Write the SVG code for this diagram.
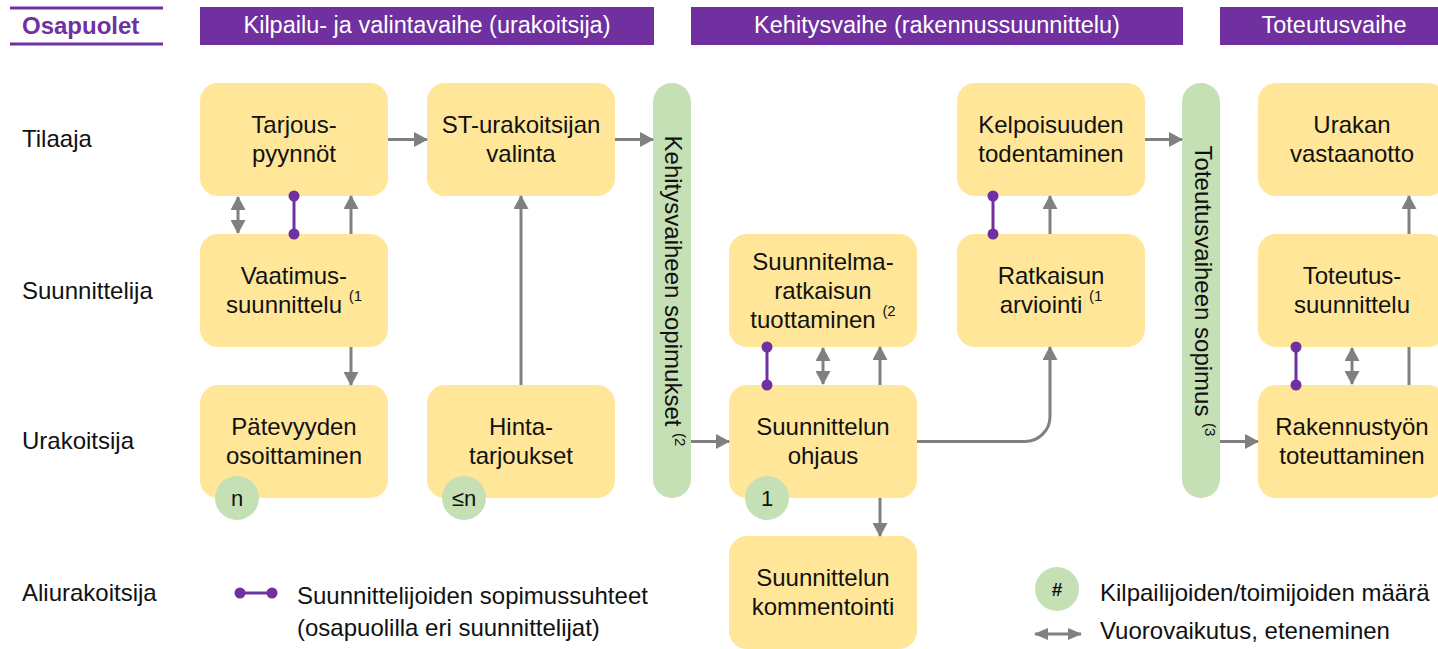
<svg xmlns="http://www.w3.org/2000/svg" width="1438" height="649" viewBox="0 0 1438 649">
<style>
text{font-family:"Liberation Sans",Arial,sans-serif;fill:#111;}
.node{fill:#FFE699;}
.t{font-size:24px;text-anchor:middle;}
.lbl{font-size:24px;}
.hdr{fill:#7030A0;}
.ht{font-size:23.5px;fill:#fff;text-anchor:middle;}
.bar{fill:#C5E0B4;}
.cnt{fill:#C5E0B4;}
.ct{font-size:22px;text-anchor:middle;}
.sup{font-size:15px;}
.arr{stroke:#808080;stroke-width:3;fill:none;}
.pl{stroke:#7030A0;stroke-width:3;fill:none;}
.pd{fill:#7030A0;}
</style>
<defs>
<marker id="ah" viewBox="0 0 14 15" refX="13" refY="7.5" markerWidth="14" markerHeight="15" markerUnits="userSpaceOnUse" orient="auto-start-reverse">
<path d="M0,0 L14,7.5 L0,15 z" fill="#808080"/>
</marker>
<marker id="ahs" viewBox="0 0 14 12" refX="13" refY="6" markerWidth="14" markerHeight="12" markerUnits="userSpaceOnUse" orient="auto-start-reverse">
<path d="M0,0 L14,6 L0,12 z" fill="#808080"/>
</marker>
</defs>

<g id="header">
<line x1="10" y1="8" x2="163" y2="8" stroke="#7030A0" stroke-width="3"/>
<line x1="10" y1="44" x2="163" y2="44" stroke="#7030A0" stroke-width="3"/>
<text x="22" y="34" style="font-size:24px;font-weight:bold;fill:#7030A0">Osapuolet</text>
<rect class="hdr" x="200" y="7" width="454" height="38"/>
<text class="ht" x="427" y="33">Kilpailu- ja valintavaihe (urakoitsija)</text>
<rect class="hdr" x="691" y="7" width="492" height="38"/>
<text class="ht" x="937" y="33">Kehitysvaihe (rakennussuunnittelu)</text>
<rect class="hdr" x="1220" y="7" width="230" height="38"/>
<text class="ht" x="1334" y="33">Toteutusvaihe</text>
</g>

<g id="row-labels">
<text class="lbl" x="22" y="147">Tilaaja</text>
<text class="lbl" x="22" y="299">Suunnittelija</text>
<text class="lbl" x="22" y="449">Urakoitsija</text>
<text class="lbl" x="22" y="601">Aliurakoitsija</text>
</g>

<g id="bar-kehitys">
<rect class="bar" x="653" y="83" width="38" height="415" rx="19"/>
<text class="t" transform="translate(665,291) rotate(90)">Kehitysvaiheen sopimukset <tspan class="sup" dy="-10">(2</tspan></text>
</g>
<g id="bar-toteutus">
<rect class="bar" x="1182" y="83" width="38" height="415" rx="19"/>
<text class="t" transform="translate(1195,291) rotate(90)">Toteutusvaiheen sopimus <tspan class="sup" dy="-10">(3</tspan></text>
</g>

<g id="n-tarjous"><rect class="node" x="200" y="83" width="188" height="113" rx="18"/>
<text class="t" x="294" y="133">Tarjous-</text><text class="t" x="294" y="162">pyynnöt</text></g>
<g id="n-st"><rect class="node" x="427" y="83" width="188" height="113" rx="18"/>
<text class="t" x="521" y="133">ST-urakoitsijan</text><text class="t" x="521" y="162">valinta</text></g>
<g id="n-kelpoisuus"><rect class="node" x="957" y="83" width="188" height="113" rx="18"/>
<text class="t" x="1051" y="133">Kelpoisuuden</text><text class="t" x="1051" y="162">todentaminen</text></g>
<g id="n-urakan"><rect class="node" x="1258" y="83" width="188" height="113" rx="18"/>
<text class="t" x="1352" y="133">Urakan</text><text class="t" x="1352" y="162">vastaanotto</text></g>

<g id="n-vaatimus"><rect class="node" x="200" y="234" width="188" height="113" rx="18"/>
<text class="t" x="294" y="284">Vaatimus-</text><text class="t" x="294" y="313">suunnittelu <tspan class="sup" dy="-12">(1</tspan></text></g>
<g id="n-suunnitelmaratkaisu"><rect class="node" x="729" y="234" width="188" height="113" rx="18"/>
<text class="t" x="823" y="270">Suunnitelma-</text><text class="t" x="823" y="299">ratkaisun</text><text class="t" x="823" y="327.5">tuottaminen <tspan class="sup" dy="-12">(2</tspan></text></g>
<g id="n-ratkaisun-arviointi"><rect class="node" x="957" y="234" width="188" height="113" rx="18"/>
<text class="t" x="1051" y="284">Ratkaisun</text><text class="t" x="1051" y="313">arviointi <tspan class="sup" dy="-12">(1</tspan></text></g>
<g id="n-toteutussuunnittelu"><rect class="node" x="1258" y="234" width="188" height="113" rx="18"/>
<text class="t" x="1352" y="284">Toteutus-</text><text class="t" x="1352" y="313">suunnittelu</text></g>

<g id="n-patevyys"><rect class="node" x="200" y="385" width="188" height="113" rx="18"/>
<text class="t" x="294" y="435">Pätevyyden</text><text class="t" x="294" y="464">osoittaminen</text>
<circle class="cnt" cx="237" cy="498" r="22"/><text class="ct" x="237" y="506">n</text></g>
<g id="n-hinta"><rect class="node" x="427" y="385" width="188" height="113" rx="18"/>
<text class="t" x="521" y="435">Hinta-</text><text class="t" x="521" y="464">tarjoukset</text>
<circle class="cnt" cx="464" cy="498" r="22"/><text class="ct" x="464" y="506">≤n</text></g>
<g id="n-ohjaus"><rect class="node" x="729" y="385" width="188" height="113" rx="18"/>
<text class="t" x="823" y="435">Suunnittelun</text><text class="t" x="823" y="464">ohjaus</text>
<circle class="cnt" cx="767" cy="498" r="22"/><text class="ct" x="767" y="506">1</text></g>
<g id="n-rakennustyo"><rect class="node" x="1258" y="385" width="188" height="113" rx="18"/>
<text class="t" x="1352" y="435">Rakennustyön</text><text class="t" x="1352" y="464">toteuttaminen</text></g>

<g id="n-kommentointi"><rect class="node" x="729" y="536" width="188" height="113" rx="18"/>
<text class="t" x="823" y="586">Suunnittelun</text><text class="t" x="823" y="615">kommentointi</text></g>

<g id="connectors">
<line class="arr" x1="388" y1="139.5" x2="427" y2="139.5" marker-end="url(#ah)"/>
<line class="arr" x1="615" y1="139.5" x2="653" y2="139.5" marker-end="url(#ah)"/>
<line class="arr" x1="1145" y1="139.5" x2="1182" y2="139.5" marker-end="url(#ah)"/>
<line class="arr" x1="238" y1="197" x2="238" y2="233" marker-start="url(#ah)" marker-end="url(#ah)"/>
<line class="arr" x1="351" y1="234" x2="351" y2="196" marker-end="url(#ah)"/>
<line class="arr" x1="351" y1="347" x2="351" y2="385" marker-end="url(#ah)"/>
<line class="arr" x1="521" y1="385" x2="521" y2="196" marker-end="url(#ah)"/>
<line class="arr" x1="691" y1="441.5" x2="729" y2="441.5" marker-end="url(#ah)"/>
<line class="arr" x1="823" y1="348" x2="823" y2="384" marker-start="url(#ah)" marker-end="url(#ah)"/>
<line class="arr" x1="880" y1="385" x2="880" y2="347" marker-end="url(#ah)"/>
<line class="arr" x1="880" y1="498" x2="880" y2="536" marker-end="url(#ah)"/>
<path class="arr" d="M917,441.5 H1025 A25,25 0 0 0 1050,416.5 V347" marker-end="url(#ah)"/>
<line class="arr" x1="1050" y1="234" x2="1050" y2="196" marker-end="url(#ah)"/>
<line class="arr" x1="1220" y1="441.5" x2="1258" y2="441.5" marker-end="url(#ah)"/>
<line class="arr" x1="1352" y1="348" x2="1352" y2="384" marker-start="url(#ah)" marker-end="url(#ah)"/>
<line class="arr" x1="1409" y1="385" x2="1409" y2="347"/>
<line class="arr" x1="1409" y1="234" x2="1409" y2="196" marker-end="url(#ah)"/>
<g id="contracts">
<line class="pl" x1="294" y1="196" x2="294" y2="234"/><circle class="pd" cx="294" cy="196" r="5.5"/><circle class="pd" cx="294" cy="234" r="5.5"/>
<line class="pl" x1="767" y1="347" x2="767" y2="385"/><circle class="pd" cx="767" cy="347" r="5.5"/><circle class="pd" cx="767" cy="385" r="5.5"/>
<line class="pl" x1="993" y1="196" x2="993" y2="234"/><circle class="pd" cx="993" cy="196" r="5.5"/><circle class="pd" cx="993" cy="234" r="5.5"/>
<line class="pl" x1="1296" y1="347" x2="1296" y2="385"/><circle class="pd" cx="1296" cy="347" r="5.5"/><circle class="pd" cx="1296" cy="385" r="5.5"/>
</g>
</g>

<g id="legend">
<line class="pl" x1="240" y1="593" x2="272" y2="593"/><circle class="pd" cx="240" cy="593" r="5.5"/><circle class="pd" cx="272" cy="593" r="5.5"/>
<text class="lbl" x="297" y="604">Suunnittelijoiden sopimussuhteet</text>
<text class="lbl" x="297" y="636">(osapuolilla eri suunnittelijat)</text>
<circle class="cnt" cx="1057" cy="589" r="22"/>
<text x="1057" y="596" style="font-size:19px;font-weight:bold;text-anchor:middle">#</text>
<text class="lbl" x="1100" y="601">Kilpailijoiden/toimijoiden määrä</text>
<line class="arr" x1="1035" y1="634" x2="1081" y2="634" marker-start="url(#ahs)" marker-end="url(#ahs)"/>
<text class="lbl" x="1100" y="639">Vuorovaikutus, eteneminen</text>
</g>
</svg>
